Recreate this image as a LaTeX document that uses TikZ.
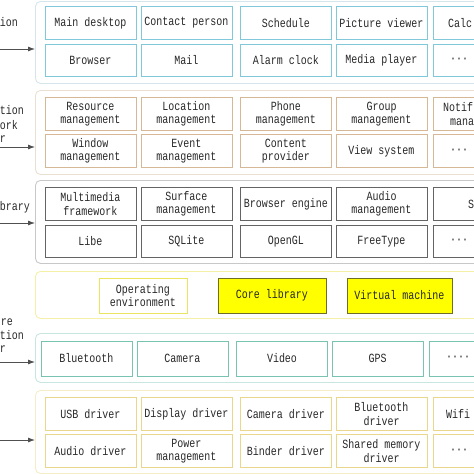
\documentclass[tikz,border=0pt]{standalone}
\usepackage{fontspec}
\setmonofont[FakeStretch=0.8]{Liberation Mono}
\usetikzlibrary{arrows.meta}

\definecolor{appline}{RGB}{128,200,218}
\definecolor{appout}{RGB}{212,230,236}
\definecolor{fwline}{RGB}{214,184,150}
\definecolor{fwout}{RGB}{234,224,210}
\definecolor{libline}{RGB}{100,100,100}
\definecolor{libout}{RGB}{200,200,200}
\definecolor{rtout}{RGB}{245,240,168}
\definecolor{rtline}{RGB}{234,228,96}
\definecolor{rtcore}{RGB}{255,255,0}
\definecolor{rtedge}{RGB}{110,110,40}
\definecolor{halline}{RGB}{120,196,176}
\definecolor{halout}{RGB}{200,230,224}
\definecolor{drvline}{RGB}{234,214,140}
\definecolor{drvout}{RGB}{244,237,200}
\definecolor{txt}{RGB}{40,40,40}
\definecolor{arr}{RGB}{80,80,80}

\begin{document}
\begin{tikzpicture}[
  x=1pt, y=-1pt,
  layer/.style={rectangle, rounded corners=5pt, line width=0.9pt,
    minimum width=485pt, inner sep=0pt, anchor=north west},
  cell/.style={rectangle, line width=0.9pt, fill=white, minimum width=91pt,
    minimum height=32.5pt, inner sep=0pt, align=center, text=txt,
    font=\ttfamily\fontsize{12.5}{13.5}\selectfont},
  cutcell/.style={align=left, text width=#1},
  appbox/.style={cell, draw=appline},
  fwbox/.style={cell, draw=fwline},
  libbox/.style={cell, draw=libline},
  halbox/.style={cell, draw=halline, minimum height=35pt},
  drvbox/.style={cell, draw=drvline},
  rtbox/.style={cell, draw=rtline, minimum height=35pt},
  corebox/.style={cell, draw=rtedge, fill=rtcore, minimum height=35pt},
  side/.style={inner sep=0pt, text=txt, anchor=east, text height=7.5pt,
    text depth=0pt, font=\ttfamily\fontsize{12.5}{14}\selectfont},
  link/.style={draw=arr, line width=0.8pt, -{Latex[length=7pt,width=5pt]}},
]
\useasboundingbox (0,0) rectangle (474,474);
\clip (0,0) rectangle (474,474);

% Layer frames
\node[layer, draw=appout, minimum height=82pt] (app) at (35,1) {};
\node[layer, draw=fwout, minimum height=84pt] (fw) at (35,90) {};
\node[layer, draw=libout, minimum height=83pt] (lib) at (35,180) {};
\node[layer, draw=rtout, minimum height=47pt] (rt) at (35,271) {};
\node[layer, draw=halout, minimum height=49pt] (hal) at (35,333) {};
\node[layer, draw=drvout, minimum height=83pt] (drv) at (35,390) {};

% Application layer
\node[appbox] (desk) at (90.5, 23) {Main desktop};
\node[appbox] (contact) at (186.5, 23) {Contact person};
\node[appbox] (sched) at (286, 23) {Schedule};
\node[appbox] (picview) at (381.5, 23) {Picture viewer};
\node[appbox, cutcell=61pt] (calc) at (478.5, 23) {Calc};
\node[appbox] (browser) at (90.5, 60.5) {Browser};
\node[appbox] (mail) at (186.5, 60.5) {Mail};
\node[appbox] (alarm) at (286, 60.5) {Alarm clock};
\node[appbox] (media) at (381.5, 60.5) {Media player};
\node[appbox, cutcell=57pt] (appmore) at (478.5, 60.5) {···};

% Application framework layer
\node[fwbox] (resmgr) at (90.5, 114) {Resource\\management};
\node[fwbox] (locmgr) at (186.5, 114) {Location\\management};
\node[fwbox] (phonemgr) at (286, 114) {Phone\\management};
\node[fwbox] (groupmgr) at (381.5, 114) {Group\\management};
\node[fwbox, cutcell=71pt] (notifmgr) at (478.5, 114) {Notif\\\hspace*{7pt}mana};
\node[fwbox] (winmgr) at (90.5, 151) {Window\\management};
\node[fwbox] (evtmgr) at (186.5, 151) {Event\\management};
\node[fwbox] (content) at (286, 151) {Content\\provider};
\node[fwbox] (viewsys) at (381.5, 151) {View system};
\node[fwbox, cutcell=57pt] (fwmore) at (478.5, 151) {···};

% System library
\node[libbox] (mmfw) at (90.5, 204) {Multimedia\\framework};
\node[libbox] (surfmgr) at (186.5, 204) {Surface\\management};
\node[libbox] (brengine) at (286, 204) {Browser engine};
\node[libbox] (audiomgr) at (381.5, 204) {Audio\\management};
\node[libbox, cutcell=21pt] (sgl) at (478.5, 204) {S};
\node[libbox] (libe) at (90.5, 241.5) {Libe};
\node[libbox] (sqlite) at (186.5, 241.5) {SQLite};
\node[libbox] (opengl) at (286, 241.5) {OpenGL};
\node[libbox] (freetype) at (381.5, 241.5) {FreeType};
\node[libbox, cutcell=57pt] (libmore) at (478.5, 241.5) {···};

% Runtime
\node[rtbox, minimum width=88pt] (openv) at (143, 295.5) {Operating\\environment};
\node[corebox, minimum width=108pt] (corelib) at (272, 295.5) {Core library};
\node[corebox, minimum width=105pt] (vm) at (399.5, 295.5) {Virtual machine};

% Hardware abstraction layer
\node[halbox] (bt) at (86.5, 358.5) {Bluetooth};
\node[halbox] (camera) at (182.5, 358.5) {Camera};
\node[halbox] (video) at (282, 358.5) {Video};
\node[halbox] (gps) at (377.5, 358.5) {GPS};
\node[halbox, cutcell=57pt] (halmore) at (474.5, 358.5) {····};

% Linux kernel drivers
\node[drvbox] (usb) at (90.5, 414) {USB driver};
\node[drvbox] (disp) at (186.5, 414) {Display driver};
\node[drvbox] (camdrv) at (286, 414) {Camera driver};
\node[drvbox] (btdrv) at (381.5, 414) {Bluetooth\\driver};
\node[drvbox, cutcell=65pt] (wifi) at (478.5, 414) {Wifi};
\node[drvbox] (audiodrv) at (90.5, 451) {Audio driver};
\node[drvbox] (power) at (186.5, 451) {Power\\management};
\node[drvbox] (binder) at (286, 451) {Binder driver};
\node[drvbox] (shmem) at (381.5, 451) {Shared memory\\driver};
\node[drvbox, cutcell=57pt] (drvmore) at (478.5, 451) {···};

% Side labels
\node[side] (appL) at (18, 23) {ion};
\node[side] (fwL1) at (24, 111) {tion};
\node[side] (fwL2) at (18, 126) {ork};
\node[side] (fwL3) at (6, 139) {r};
\node[side] (libL) at (30, 207) {brary};
\node[side] (halL1) at (13, 322) {re};
\node[side] (halL2) at (24, 336) {tion};
\node[side] (halL3) at (6, 349) {r};

% Arrows into the layers
\coordinate (appA) at (-40, 49);
\coordinate (fwA) at (-40, 147);
\coordinate (libA) at (-40, 223);
\coordinate (halA) at (-40, 362);
\coordinate (drvA) at (-40, 440);
\draw[link] (appA) -- (appA -| app.west);
\draw[link] (fwA) -- (fwA -| fw.west);
\draw[link] (libA) -- (libA -| lib.west);
\draw[link] (halA) -- (halA -| hal.west);
\draw[link] (drvA) -- (drvA -| drv.west);

\end{tikzpicture}
\end{document}
